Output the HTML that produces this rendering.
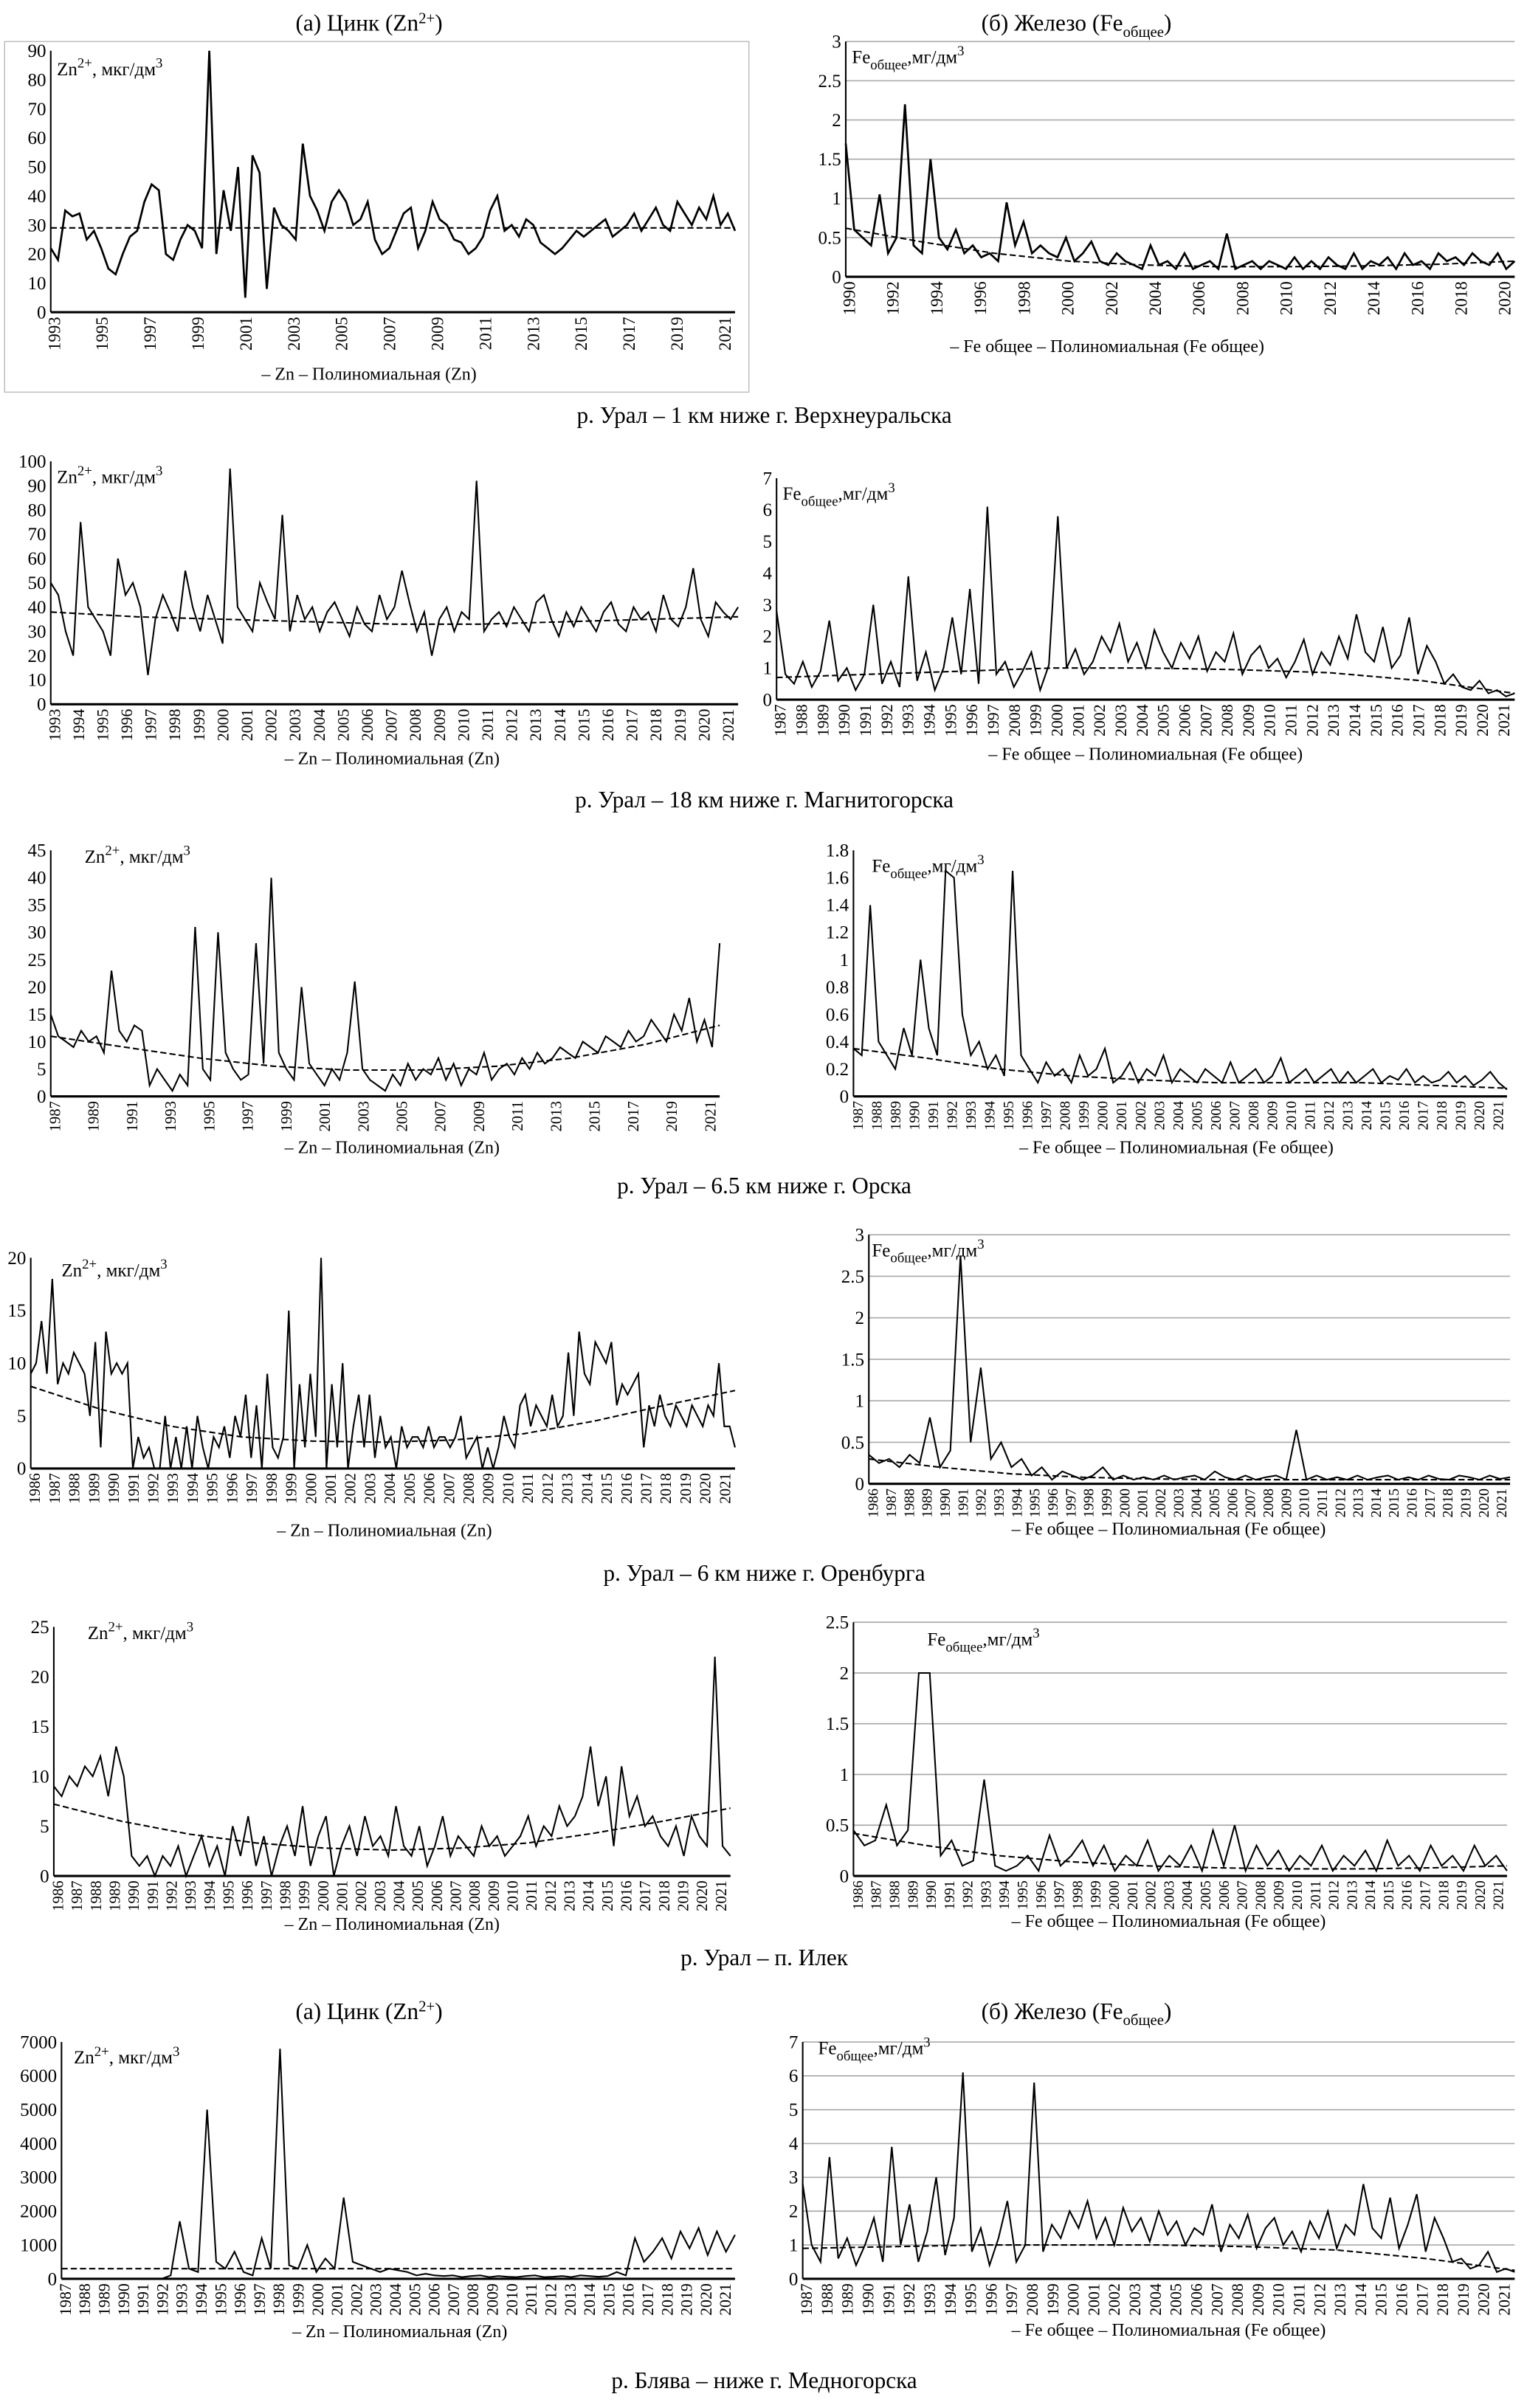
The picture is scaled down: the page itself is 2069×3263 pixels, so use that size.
<!DOCTYPE html>
<html><head><meta charset="utf-8">
<style>
html,body{margin:0;padding:0;background:#fff;}
svg{display:block;font-family:"Liberation Serif","DejaVu Serif",serif;}
</style></head>
<body>
<svg id="fig" width="2069" height="3263" viewBox="0 0 993 1566" xmlns="http://www.w3.org/2000/svg">
<rect x="0" y="0" width="993" height="1566" fill="#fff"/>
<rect x="3" y="27" width="484" height="228" fill="none" stroke="#bbb" stroke-width="0.7"/>
<g font-size="15" text-anchor="middle" fill="#000">
<text x="240" y="20">(а)   Цинк (Zn<tspan dy="-5" font-size="10">2+</tspan><tspan dy="5">)</tspan></text>
<text x="700" y="20">(б)   Железо (Fe<tspan dy="4" font-size="10">общее</tspan><tspan dy="-4">)</tspan></text>
<text x="497" y="275">р. Урал – 1 км ниже г. Верхнеуральска</text>
<text x="497" y="525">р. Урал  – 18 км ниже г. Магнитогорска</text>
<text x="497" y="776">р. Урал – 6.5 км ниже г. Орска</text>
<text x="497" y="1028">р. Урал – 6 км ниже г.  Оренбурга</text>
<text x="497" y="1278">р. Урал – п. Илек</text>
<text x="240" y="1313">(а)   Цинк (Zn<tspan dy="-5" font-size="10">2+</tspan><tspan dy="5">)</tspan></text>
<text x="700" y="1313">(б)   Железо (Fe<tspan dy="4" font-size="10">общее</tspan><tspan dy="-4">)</tspan></text>
<text x="497" y="1553">р. Блява – ниже г. Медногорска</text>
</g>
</svg>
<script>
// ---- data (hand-estimated from the figure) ----
const zn1=[22,18,35,33,34,25,28,22,15,13,20,26,28,38,44,42,20,18,25,30,28,22,90,20,42,28,50,5,54,48,8,36,30,28,25,58,40,35,28,38,42,38,30,32,38,25,20,22,28,34,36,22,28,38,32,30,25,24,20,22,26,35,40,28,30,26,32,30,24,22,20,22,25,28,26,28,30,32,26,28,30,34,28,32,36,30,28,38,34,30,36,32,40,30,34,28];
const zn1Trend=[29,29,29,29,29,29];
const fe1=[1.7,0.6,0.5,0.4,1.05,0.3,0.5,2.2,0.4,0.3,1.5,0.5,0.35,0.6,0.3,0.4,0.25,0.3,0.2,0.95,0.4,0.7,0.3,0.4,0.3,0.25,0.5,0.2,0.3,0.45,0.2,0.15,0.3,0.2,0.15,0.1,0.4,0.15,0.2,0.1,0.3,0.1,0.15,0.2,0.1,0.55,0.1,0.15,0.2,0.1,0.2,0.15,0.1,0.25,0.1,0.2,0.1,0.25,0.15,0.1,0.3,0.1,0.2,0.15,0.25,0.1,0.3,0.15,0.2,0.1,0.3,0.2,0.25,0.15,0.3,0.2,0.15,0.3,0.1,0.2];
const fe1Trend=[0.62,0.45,0.3,0.2,0.15,0.13,0.13,0.14,0.16,0.2];
const zn2=[50,45,30,20,75,40,35,30,20,60,45,50,40,12,35,45,38,30,55,40,30,45,35,25,97,40,35,30,50,42,35,78,30,45,35,40,30,38,42,35,28,40,33,30,45,35,40,55,42,30,38,20,35,40,30,38,35,92,30,35,38,32,40,35,30,42,45,35,28,38,32,40,35,30,38,42,33,30,40,35,38,30,45,35,32,40,56,35,28,42,38,35,40];
const zn2Trend=[38,36,35,34,33,33,34,35,36];
const fe2=[2.8,0.8,0.5,1.2,0.4,0.9,2.5,0.6,1.0,0.3,0.8,3.0,0.5,1.2,0.4,3.9,0.6,1.5,0.3,1.0,2.6,0.8,3.5,0.5,6.1,0.8,1.2,0.4,0.9,1.5,0.3,1.1,5.8,1.0,1.6,0.8,1.2,2.0,1.5,2.4,1.2,1.8,1.0,2.2,1.5,1.0,1.8,1.3,2.0,0.9,1.5,1.2,2.1,0.8,1.4,1.7,1.0,1.3,0.7,1.2,1.9,0.8,1.5,1.1,2.0,1.3,2.7,1.5,1.2,2.3,1.0,1.4,2.6,0.8,1.7,1.2,0.5,0.8,0.4,0.3,0.6,0.2,0.3,0.1,0.2];
const fe2Trend=[0.7,0.8,0.9,1.0,1.0,0.95,0.85,0.6,0.2];
const zn3=[15,11,10,9,12,10,11,8,23,12,10,13,12,2,5,3,1,4,2,31,5,3,30,8,5,3,4,28,6,40,8,5,3,20,6,4,2,5,3,8,21,5,3,2,1,4,2,6,3,5,4,7,3,6,2,5,4,8,3,5,6,4,7,5,8,6,7,9,8,7,10,9,8,11,10,9,12,10,11,14,12,10,15,12,18,10,14,9,28];
const zn3Trend=[11,9,7,5.5,4.8,4.8,5.5,7,9.5,13];
const fe3=[0.35,0.3,1.4,0.4,0.3,0.2,0.5,0.3,1.0,0.5,0.3,1.65,1.6,0.6,0.3,0.4,0.2,0.3,0.15,1.65,0.3,0.2,0.1,0.25,0.15,0.2,0.1,0.3,0.15,0.2,0.35,0.1,0.15,0.25,0.1,0.2,0.15,0.3,0.1,0.2,0.15,0.1,0.2,0.15,0.1,0.25,0.1,0.15,0.2,0.1,0.15,0.28,0.1,0.15,0.2,0.1,0.15,0.2,0.1,0.18,0.1,0.15,0.2,0.1,0.15,0.12,0.2,0.1,0.15,0.1,0.12,0.18,0.1,0.15,0.08,0.12,0.18,0.1,0.05];
const fe3Trend=[0.35,0.28,0.2,0.15,0.12,0.1,0.1,0.1,0.08,0.06];
const zn4=[9,10,14,9,18,8,10,9,11,10,9,5,12,2,13,9,10,9,10,0,3,1,2,0,0,5,0,3,0,4,0,5,2,0,3,2,4,1,5,3,7,1,6,0,9,2,1,3,15,0,8,2,9,3,20,0,8,2,10,0,4,7,2,7,1,5,2,3,0,4,2,3,3,2,4,2,3,3,2,3,5,1,2,3,0,2,0,2,5,3,2,6,7,4,6,5,4,7,4,5,11,5,13,9,8,12,11,10,12,6,8,7,8,9,2,6,4,7,5,4,6,5,4,6,5,4,6,5,10,4,4,2];
const zn4Trend=[7.8,5.6,4,3,2.6,2.5,2.7,3.3,4.5,6,7.4];
const fe4=[0.35,0.25,0.3,0.2,0.35,0.25,0.8,0.2,0.4,2.75,0.5,1.4,0.3,0.5,0.2,0.3,0.1,0.2,0.05,0.15,0.1,0.05,0.1,0.2,0.05,0.1,0.05,0.08,0.05,0.1,0.05,0.08,0.1,0.05,0.15,0.08,0.05,0.1,0.05,0.08,0.1,0.05,0.65,0.05,0.1,0.05,0.08,0.05,0.1,0.05,0.08,0.1,0.05,0.08,0.05,0.1,0.06,0.05,0.1,0.08,0.05,0.1,0.06,0.08];
const fe4Trend=[0.3,0.2,0.12,0.08,0.06,0.05,0.05,0.05,0.05,0.05];
const zn5=[9,8,10,9,11,10,12,8,13,10,2,1,2,0,2,1,3,0,2,4,1,3,0,5,2,6,1,4,0,3,5,2,7,1,4,6,0,3,5,2,6,3,4,2,7,3,2,5,1,3,6,2,4,3,2,5,3,4,2,3,4,6,3,5,4,7,5,6,8,13,7,10,3,11,6,8,5,6,4,3,5,2,6,4,3,22,3,2];
const zn5Trend=[7.2,5.5,4.2,3.3,2.8,2.6,2.8,3.3,4.3,5.5,6.8];
const fe5=[0.45,0.3,0.35,0.7,0.3,0.45,2.0,2.0,0.2,0.35,0.1,0.15,0.95,0.1,0.05,0.1,0.2,0.05,0.4,0.1,0.2,0.35,0.1,0.3,0.05,0.2,0.1,0.35,0.05,0.2,0.1,0.3,0.05,0.45,0.1,0.5,0.05,0.3,0.1,0.25,0.05,0.2,0.1,0.3,0.05,0.2,0.1,0.25,0.05,0.35,0.1,0.2,0.05,0.3,0.1,0.2,0.05,0.3,0.1,0.2,0.05];
const fe5Trend=[0.42,0.3,0.2,0.14,0.1,0.08,0.07,0.07,0.08,0.1];
const zn6=[0,0,0,0,0,0,0,0,0,0,0,0,100,1700,300,200,5000,500,300,800,200,100,1200,300,6800,400,300,1000,200,600,300,2400,500,400,300,200,300,250,200,100,150,100,80,100,50,80,100,50,80,60,50,80,100,50,60,80,50,100,80,60,80,200,100,1200,500,800,1200,600,1400,900,1500,700,1400,800,1300];
const zn6Trend=[300,300,300,300,300,300];
const fe6=[2.8,1.0,0.5,3.6,0.6,1.2,0.4,1.0,1.8,0.5,3.9,1.0,2.2,0.5,1.4,3.0,0.7,1.8,6.1,0.8,1.5,0.4,1.2,2.3,0.5,1.0,5.8,0.8,1.6,1.2,2.0,1.5,2.3,1.2,1.8,1.0,2.1,1.4,1.8,1.1,2.0,1.3,1.7,1.0,1.5,1.3,2.2,0.8,1.6,1.2,1.9,0.9,1.5,1.8,1.0,1.4,0.8,1.7,1.2,2.0,0.9,1.6,1.3,2.8,1.5,1.2,2.4,0.9,1.6,2.5,0.8,1.8,1.2,0.5,0.6,0.3,0.4,0.8,0.2,0.3,0.2];
const fe6Trend=[0.9,0.95,1.0,1.0,1.0,0.95,0.85,0.6,0.25];

function range(a,b,s){const r=[];for(let v=a;v<=b;v+=s)r.push(String(v));return r;}
const xl1=range(1993,2021,2), xl2=range(1990,2020,2);
const xl3=["1993","1994","1995","1996","1997","1998","1999","2000","2001","2002","2003","2004","2005","2006","2007","2008","2009","2010","2011","2012","2013","2014","2015","2016","2017","2018","2019","2020","2021"];
const xlFe=["1987","1988","1989","1990","1991","1992","1993","1994","1995","1996","1997","2008","1999","2000","2001","2002","2003","2004","2005","2006","2007","2008","2009","2010","2011","2012","2013","2014","2015","2016","2017","2018","2019","2020","2021"];
const xl5=range(1987,2021,2), xl6=range(1987,2021,1), xl7=range(1986,2021,1);

const NS="http://www.w3.org/2000/svg";
const svg=document.getElementById('fig');
function mk(tag,attrs,parent){const e=document.createElementNS(NS,tag);for(const k in attrs)e.setAttribute(k,attrs[k]);(parent||svg).appendChild(e);return e;}

function chart(c){
  const g=mk('g',{});
  
  
  const xs=i=>c.x0+(c.x1-c.x0)*i;
  const ys=v=>c.yb-(c.yb-c.yt)*v/c.ymax;
  // grid + y ticks
  for(let v=0;v<=c.ymax+1e-9;v+=c.ystep){
    const y=ys(v);
    if(c.grid&&v>0){const l=mk('line',{x1:c.x0,x2:c.x1,y1:y,y2:y,stroke:'#aaa','stroke-width':0.8},g);
      }
    const t=mk('text',{x:c.x0-3,y:y+4,'font-size':c.fs||12,'text-anchor':'end'},g);
    t.textContent=(Math.round(v*100)/100).toString();
    
  }
  const ax=mk('line',{x1:c.x0,x2:c.x0,y1:c.yt,y2:c.yb,stroke:'#000','stroke-width':1},g);
  
  const bx=mk('line',{x1:c.x0,x2:c.x1,y1:c.yb,y2:c.yb,stroke:'#000','stroke-width':1.5},g);
  
  // x labels
  const n=c.xl.length;
  c.xl.forEach((s,i)=>{
    const x=c.x0+(c.x1-c.x0)*(n>1?i/(n-1)*(c.xfrac||0.98):0)+3;
    const t=mk('text',{x:0,y:0,'font-size':c.xfs||11,'text-anchor':'end',transform:`translate(${x+3},${c.yb+3}) rotate(-90)`},g);
    t.textContent=s;
    
  });
  // series
  const d=c.data;
  const pts=d.map((v,i)=>xs(i/(d.length-1)).toFixed(1)+','+ys(v).toFixed(1)).join(' ');
  const pl=mk('polyline',{points:pts,fill:'none',stroke:'#000','stroke-width':c.sw||1},g);
  
  const tr=c.trend;
  const tp=tr.map((v,i)=>xs(i/(tr.length-1)).toFixed(1)+','+ys(v).toFixed(1)).join(' ');
  const tl=mk('polyline',{points:tp,fill:'none',stroke:'#000','stroke-width':1,'stroke-dasharray':'4,2'},g);
  
  // unit label
  const u=mk('text',{x:c.x0+c.ux,y:c.yt+c.uy,'font-size':12},g);
  
  if(c.zn){u.innerHTML='Zn<tspan dy="-5" font-size="9">2+</tspan><tspan dy="5">, мкг/дм</tspan><tspan dy="-5" font-size="9">3</tspan>';}
  else{u.innerHTML='Fe<tspan dy="4" font-size="9">общее</tspan><tspan dy="-4">,мг/дм</tspan><tspan dy="-5" font-size="9">3</tspan>';}
  const lg=mk('text',{x:c.lx,y:c.ly,'font-size':11.5,'text-anchor':'middle'},g);
  lg.textContent=c.zn?'– Zn – Полиномиальная (Zn)':'–  Fe общее   –  Полиномиальная (Fe общее)';
  
}

chart({name:'zn-verkhneuralsk',zn:1,data:zn1,trend:zn1Trend,x0:33,x1:478,yt:33,yb:203,ymax:90,ystep:10,xl:xl1,ux:4,uy:16,lx:240,ly:247,sw:1.3});
chart({name:'fe-verkhneuralsk',data:fe1,trend:fe1Trend,x0:550,x1:985,yt:27,yb:180,ymax:3,ystep:0.5,grid:1,xl:xl2,ux:4,uy:14,lx:720,ly:229,sw:1.3});
chart({name:'zn-magnitogorsk',zn:1,data:zn2,trend:zn2Trend,x0:33,x1:480,yt:300,yb:458,ymax:100,ystep:10,xl:xl3,xfs:10.5,ux:4,uy:14,lx:255,ly:497});
chart({name:'fe-magnitogorsk',data:fe2,trend:fe2Trend,x0:505,x1:985,yt:311,yb:455,ymax:7,ystep:1,xl:xlFe,xfs:10.5,ux:4,uy:14,lx:745,ly:494});
chart({name:'zn-orsk',zn:1,data:zn3,trend:zn3Trend,x0:33,x1:468,yt:553,yb:713,ymax:45,ystep:5,xl:xl5,xfs:10,ux:22,uy:8,lx:255,ly:750});
chart({name:'fe-orsk',data:fe3,trend:fe3Trend,x0:555,x1:980,yt:553,yb:713,ymax:1.8,ystep:0.2,xl:xlFe,xfs:9.5,ux:12,uy:14,lx:765,ly:750});
chart({name:'zn-orenburg',zn:1,data:zn4,trend:zn4Trend,x0:20,x1:478,yt:818,yb:955,ymax:20,ystep:5,xl:xl7,xfs:10,ux:20,uy:12,lx:250,ly:999});
chart({name:'fe-orenburg',data:fe4,trend:fe4Trend,x0:565,x1:982,yt:803,yb:965,ymax:3,ystep:0.5,grid:1,xl:xl7,xfs:9.5,ux:2,uy:14,lx:760,ly:998});
chart({name:'zn-ilek',zn:1,data:zn5,trend:zn5Trend,x0:35,x1:475,yt:1058,yb:1220,ymax:25,ystep:5,xl:xl7,xfs:10,ux:22,uy:8,lx:255,ly:1255});
chart({name:'fe-ilek',data:fe5,trend:fe5Trend,x0:555,x1:980,yt:1055,yb:1220,ymax:2.5,ystep:0.5,grid:1,xl:xl7,xfs:9.5,ux:48,uy:15,lx:760,ly:1253});
chart({name:'zn-blyava',zn:1,data:zn6,trend:zn6Trend,x0:40,x1:478,yt:1328,yb:1482,ymax:7000,ystep:1000,xl:xl6,xfs:10.5,ux:8,uy:14,lx:260,ly:1520});
chart({name:'fe-blyava',data:fe6,trend:fe6Trend,x0:522,x1:985,yt:1328,yb:1482,ymax:7,ystep:1,grid:1,xl:xlFe,xfs:10.5,ux:10,uy:8,lx:760,ly:1519});
</script>
</body></html>
